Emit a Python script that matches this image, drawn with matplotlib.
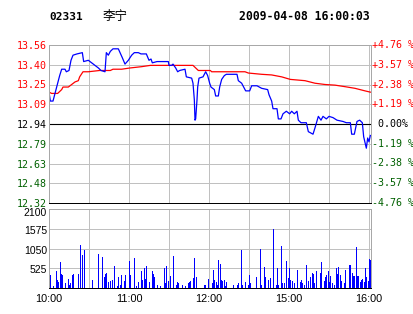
import numpy as np
import matplotlib
matplotlib.use("Agg")
import matplotlib.pyplot as plt
import matplotlib.transforms as mtransforms

# Datos (minuto desde las 10:00, sesion HK 10:00-12:30 + 14:30-16:00)
codigo = "02331"
nombre = "李宁"
fecha = "2009-04-08 16:00:03"
cierre_anterior = 12.94

min_precio = [0, 1, 3, 4.5, 6.5, 8, 9.5, 12, 13, 15, 16.5, 18, 21, 25, 26, 29.5, 32, 34.5, 37, 39,
              42, 43, 44.5, 46, 48, 52, 55, 57, 59.5, 62, 64, 67, 69, 73, 75, 76.5, 77.5, 81, 89.5, 90,
              92, 93, 95, 96.5, 98, 102, 103, 107, 108, 109, 109.5, 110, 111, 111.5, 112.5, 115.5, 117.5, 119, 120.5, 121.5,
              124, 125, 127, 128, 129.5, 131.5, 133, 141, 142, 144.5, 147.5, 150.5, 152, 156, 159.5, 164, 165, 167, 168, 171,
              172, 174, 175.5, 178, 180.5, 182, 184, 186, 187, 189, 193, 194.5, 198, 199.5, 202, 204, 205.5, 208, 210, 213,
              216, 220.5, 223, 226, 227, 229, 231, 233, 235, 236, 238, 239, 240, 241]
precio = [13.19, 13.12, 13.12, 13.18, 13.26, 13.32, 13.37, 13.37, 13.35, 13.36, 13.44, 13.48, 13.49, 13.50, 13.43, 13.44, 13.42, 13.40, 13.38, 13.36,
          13.35, 13.50, 13.48, 13.51, 13.53, 13.53, 13.46, 13.41, 13.44, 13.48, 13.50, 13.50, 13.49, 13.49, 13.44, 13.45, 13.42, 13.43, 13.43, 13.40,
          13.40, 13.41, 13.38, 13.35, 13.36, 13.37, 13.31, 13.30, 13.26, 13.13, 12.97, 12.98, 13.13, 13.23, 13.30, 13.31, 13.35, 13.32, 13.26, 13.23,
          13.21, 13.16, 13.16, 13.23, 13.29, 13.32, 13.33, 13.33, 13.28, 13.26, 13.20, 13.20, 13.24, 13.24, 13.22, 13.21, 13.17, 13.12, 13.06, 13.06,
          12.98, 12.98, 13.02, 13.04, 13.02, 13.04, 13.02, 13.04, 12.97, 12.95, 12.95, 12.88, 12.86, 12.91, 13.00, 12.97, 13.00, 12.98, 13.00, 12.99,
          12.97, 12.96, 12.95, 12.95, 12.86, 12.86, 12.96, 12.97, 12.95, 12.84, 12.75, 12.83, 12.80, 12.85]

min_media = [0, 2, 6.5, 9.5, 10.5, 14.5, 17, 19.5, 22, 23, 25.5, 29.5, 38, 46, 48, 54.5, 61, 69.5, 76, 108,
             110, 112, 121, 122, 147, 149.5, 159.5, 167, 174.5, 181, 192, 199.5, 207, 214.5, 222, 229.5, 237, 241]
media = [13.19, 13.18, 13.18, 13.21, 13.23, 13.23, 13.25, 13.27, 13.28, 13.31, 13.35, 13.35, 13.36, 13.36, 13.37, 13.37, 13.38, 13.39, 13.40, 13.40,
         13.38, 13.36, 13.36, 13.35, 13.35, 13.34, 13.33, 13.325, 13.31, 13.29, 13.28, 13.26, 13.25, 13.245, 13.233, 13.22, 13.20, 13.19]

min_vol = [0, 1, 3, 5, 6, 7, 8, 9, 10, 12, 14, 15, 16, 17, 18, 22, 23, 25, 26, 32,
           37, 40, 41, 42, 43, 44, 46, 47, 49, 51, 52, 53, 54, 56, 57, 60, 61, 64, 65, 67,
           69, 70, 71, 72, 73, 75, 77, 78, 79, 81, 83, 86, 87, 88, 89, 91, 93, 95, 96, 97,
           100, 102, 104, 105, 106, 108, 109, 110, 116, 117, 119, 122, 123, 124, 125, 126, 127, 128, 129, 130,
           131, 132, 133, 138, 141, 142, 144, 145, 147, 149, 150, 151, 155, 158, 159, 161, 162, 164, 166, 168,
           170, 171, 172, 174, 175, 176, 178, 179, 180, 181, 182, 184, 186, 188, 189, 190, 191, 193, 194, 196,
           197, 198, 199, 200, 203, 204, 206, 207, 208, 209, 210, 211, 212, 214, 215, 216, 217, 218, 219, 221,
           222, 225, 226, 227, 228, 229, 230, 231, 232, 233, 234, 235, 236, 237, 238, 239, 240, 241]
volumen = [2000, 350, 60, 460, 220, 150, 700, 380, 350, 130, 250, 90, 120, 350, 380, 380, 1150, 890, 1020, 200,
           910, 830, 290, 380, 410, 150, 180, 200, 590, 60, 280, 90, 350, 180, 350, 720, 350, 790, 60, 150,
           450, 210, 520, 240, 590, 150, 450, 380, 290, 90, 60, 540, 120, 590, 180, 330, 840, 90, 150, 120,
           90, 60, 120, 150, 180, 270, 810, 300, 90, 90, 250, 120, 490, 210, 150, 90, 750, 640, 200, 180,
           200, 60, 150, 90, 90, 120, 1020, 90, 150, 90, 350, 120, 300, 1040, 90, 560, 300, 210, 270, 1570,
           90, 530, 90, 1120, 120, 120, 720, 270, 520, 210, 180, 120, 490, 150, 200, 120, 90, 620, 180, 290,
           390, 370, 120, 460, 410, 680, 180, 290, 350, 440, 150, 330, 120, 90, 540, 380, 560, 350, 180, 120,
           490, 600, 600, 410, 330, 330, 1080, 310, 310, 150, 210, 250, 150, 540, 290, 180, 770, 750]

ticks_precio = [12.32, 12.48, 12.63, 12.79, 12.94, 13.09, 13.25, 13.40, 13.56]
etiquetas_pct = ["-4.76 %", "-3.57 %", "-2.38 %", "-1.19 %", " 0.00%", "+1.19 %", "+2.38 %", "+3.57 %", "+4.76 %"]
ticks_vol = [525, 1050, 1575, 2100]
etiquetas_hora = ["10:00", "11:00", "12:00", "15:00", "16:00"]
min_hora = [0, 60, 120, 180, 240]

ROJO = "#ff0000"
VERDE = "#006000"
AZUL = "#0000ff"
GRIS = "#c0c0c0"
MONO = "DejaVu Sans Mono"
SANS = "Liberation Sans"

W, H = 414, 314
fig = plt.figure(figsize=(W / 100, H / 100), dpi=100)
fig.patch.set_facecolor("white")

ax = fig.add_axes([49 / W, 1 - 203 / H, 322 / W, 158 / H])
axv = fig.add_axes([49 / W, 1 - 288 / H, 322 / W, 79 / H])

for a in (ax, axv):
    a.set_xlim(0, 241.5)
    a.set_xticks(np.arange(0, 241, 30))
    a.set_xticklabels([])
    a.grid(True, color=GRIS, lw=0.72)
    a.set_axisbelow(True)
    a.tick_params(length=0)
    for lado in ("top", "left", "right"):
        a.spines[lado].set_color("#a8a8a8")
        a.spines[lado].set_linewidth(0.72)
    a.spines["bottom"].set_color("black")
    a.spines["bottom"].set_linewidth(0.72)

# Panel de precio
ax.set_ylim(ticks_precio[0], ticks_precio[-1])
ax.set_yticks(np.linspace(ticks_precio[0], ticks_precio[-1], 9))
ax.set_yticklabels([f"{t:.2f}" for t in ticks_precio], family=MONO, fontsize=7.2)
ax.tick_params(axis="y", pad=1.5)
for lab, t in zip(ax.get_yticklabels(), ticks_precio):
    lab.set_color(ROJO if t > cierre_anterior else (VERDE if t < cierre_anterior else "black"))

ax.axhline(cierre_anterior, color="black", lw=0.8)
ax.plot(min_media, media, color=ROJO, lw=0.9)
ax.plot(min_precio, precio, color=AZUL, lw=0.9)

tr = mtransforms.blended_transform_factory(ax.transAxes, ax.transData)
for y, txt in zip(np.linspace(ticks_precio[0], ticks_precio[-1], 9), etiquetas_pct):
    col = ROJO if txt.startswith("+") else (VERDE if txt.startswith("-") else "black")
    ax.text(1.002, y, txt, transform=tr, ha="left", va="center",
            family=MONO, fontsize=7.2, color=col, clip_on=False)

# Panel de volumen (barras de 1 px, sin suavizado)
axv.bar(min_vol, volumen, width=0.8, align="edge", color=AZUL, lw=0, antialiased=False)
axv.set_ylim(0, 2100)
axv.set_yticks(ticks_vol)
axv.set_yticklabels([])
for v in ticks_vol:
    baja = 4 if v == ticks_vol[-1] else 2
    axv.text(-2 / 322, v / 2100 - baja / 79, str(v), transform=axv.transAxes,
             ha="right", va="center", family=SANS, fontsize=7.5, clip_on=False)

trv = mtransforms.blended_transform_factory(axv.transData, axv.transAxes)
for m, txt in zip(min_hora, etiquetas_hora):
    axv.text(m, -10.7 / 79, txt, transform=trv, ha="center", va="center",
             family=SANS, fontsize=7.8, clip_on=False)

# Encabezado
yt = 1 - 16.5 / H
fig.text(49 / W, yt, codigo, family=MONO, weight="bold", fontsize=8, va="center")
fig.text(103 / W, yt, nombre, family=["Noto Sans CJK SC", "DejaVu Sans"], fontsize=9, va="center")
fig.text(370 / W, yt, fecha, family=MONO, weight="bold", fontsize=8.3, va="center", ha="right")

fig.savefig("out.png", dpi=100)
